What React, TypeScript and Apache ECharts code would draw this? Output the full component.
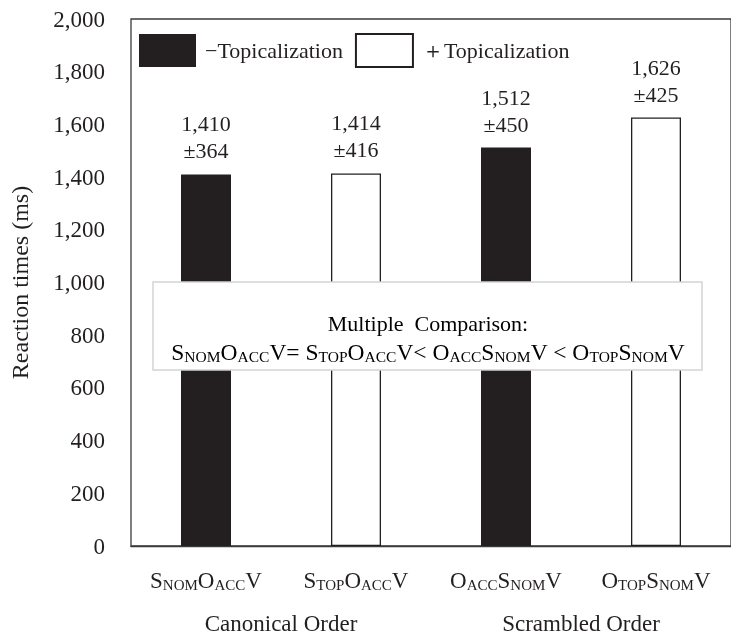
import React, { useEffect, useRef } from "react";
import * as echarts from "echarts";

const categories = [
  "{m|S}{s|NOM}{m|O}{s|ACC}{m|V}",
  "{m|S}{s|TOP}{m|O}{s|ACC}{m|V}",
  "{m|O}{s|ACC}{m|S}{s|NOM}{m|V}",
  "{m|O}{s|TOP}{m|S}{s|NOM}{m|V}",
];
const groupLabels = ["Canonical Order", "Scrambled Order"];
const minusTopValues: (number | string)[] = [1410, "-", 1512, "-"];
const plusTopValues: (number | string)[] = ["-", 1414, "-", 1626];
const sdValues = [364, 416, 450, 425];
const seriesNames = ["\u2212Topicalization", "\uFF0BTopicalization"];
const yTicks = { min: 0, max: 2000, interval: 200 };
const comparisonTitle = "Multiple  Comparison:";
const comparisonLine =
  "{m|S}{s|NOM}{m|O}{s|ACC}{m|V= S}{s|TOP}{m|O}{s|ACC}{m|V< O}{s|ACC}{m|S}{s|NOM}{m|V < O}{s|TOP}{m|S}{s|NOM}{m|V}";

const FONT = "'Liberation Serif', 'Times New Roman', serif";
const INK = "#231f20";

const richStyles = {
  m: { fontSize: 23, fontFamily: FONT, color: INK, lineHeight: 28, verticalAlign: "bottom" as const },
  s: { fontSize: 15, fontFamily: FONT, color: INK, lineHeight: 12, verticalAlign: "bottom" as const },
};

const fmt = (v: number) => v.toLocaleString("en-US");

export default function App() {
  const ref = useRef<HTMLDivElement>(null);
  useEffect(() => {
    if (!ref.current) return;
    const chart = echarts.init(ref.current, undefined, { renderer: "svg" });
    const valueLabel = {
      show: true,
      position: "top" as const,
      distance: 10,
      fontSize: 22,
      lineHeight: 27,
      fontFamily: FONT,
      color: INK,
      formatter: (p: any) => `${fmt(p.value)}\n\u00B1${sdValues[p.dataIndex]}`,
    };
    chart.setOption({
      animation: false,
      textStyle: { fontFamily: FONT, color: INK },
      grid: { left: 119, top: 19, right: -8, bottom: 90, show: true, borderColor: "#3a3a3a", borderWidth: 1.3, backgroundColor: "transparent" },
      legend: {
        left: 139,
        top: 33,
        padding: 0,
        itemWidth: 57,
        itemHeight: 33,
        itemGap: 12,
        icon: "rect",
        textStyle: { fontSize: 22, fontFamily: FONT, color: INK, padding: [0, 0, 0, 4] },
        data: seriesNames,
      },
      xAxis: [
        {
          type: "category",
          data: categories,
          axisLine: { show: true, lineStyle: { color: "#3a3a3a", width: 1.3 } },
          axisTick: { show: false },
          axisLabel: { interval: 0, margin: 18, formatter: (v: string) => v, rich: { m: richStyles.m, s: richStyles.s } },
        },
        {
          type: "category",
          data: groupLabels,
          position: "bottom",
          axisLine: { show: false },
          axisTick: { show: false },
          axisLabel: { interval: 0, margin: 66, fontSize: 23, fontFamily: FONT, color: INK },
        },
      ],
      yAxis: {
        type: "value",
        min: yTicks.min,
        max: yTicks.max,
        interval: yTicks.interval,
        splitLine: { show: false },
        axisLine: { show: false },
        axisTick: { show: false },
        axisLabel: { margin: 26, fontSize: 23, fontFamily: FONT, color: INK, formatter: (v: number) => fmt(v) },
        name: "Reaction times (ms)",
        nameLocation: "middle",
        nameRotate: 90,
        nameGap: 99,
        nameTextStyle: { fontSize: 24, fontFamily: FONT, color: INK },
      },
      series: [
        {
          name: seriesNames[0],
          type: "bar",
          stack: "all",
          barWidth: 50,
          data: minusTopValues,
          itemStyle: { color: INK },
          label: valueLabel,
        },
        {
          name: seriesNames[1],
          type: "bar",
          stack: "all",
          barWidth: 50,
          data: plusTopValues,
          itemStyle: { color: "#ffffff", borderColor: INK, borderWidth: 1.3 },
          label: valueLabel,
        },
      ],
      graphic: [
        {
          type: "rect",
          z: 100,
          shape: { x: 153, y: 282, width: 549, height: 88 },
          style: { fill: "#ffffff", stroke: "#d4d4d4", lineWidth: 1.5 },
        },
        {
          type: "text",
          z: 101,
          x: 428,
          y: 334,
          style: {
            text: `{t|${comparisonTitle}}\n${comparisonLine}`,
            align: "center",
            verticalAlign: "middle",
            rich: {
              t: { ...richStyles.m, fontSize: 22, lineHeight: 30 },
              m: { ...richStyles.m, fontSize: 23.5, lineHeight: 30 },
              s: { ...richStyles.s, fontSize: 15.5, lineHeight: 14 },
            },
          },
        },
      ],
    });
    return () => chart.dispose();
  }, []);
  return <div ref={ref} style={{ position: "fixed", left: 0, top: 0, width: 731, height: 636 }} />;
}
